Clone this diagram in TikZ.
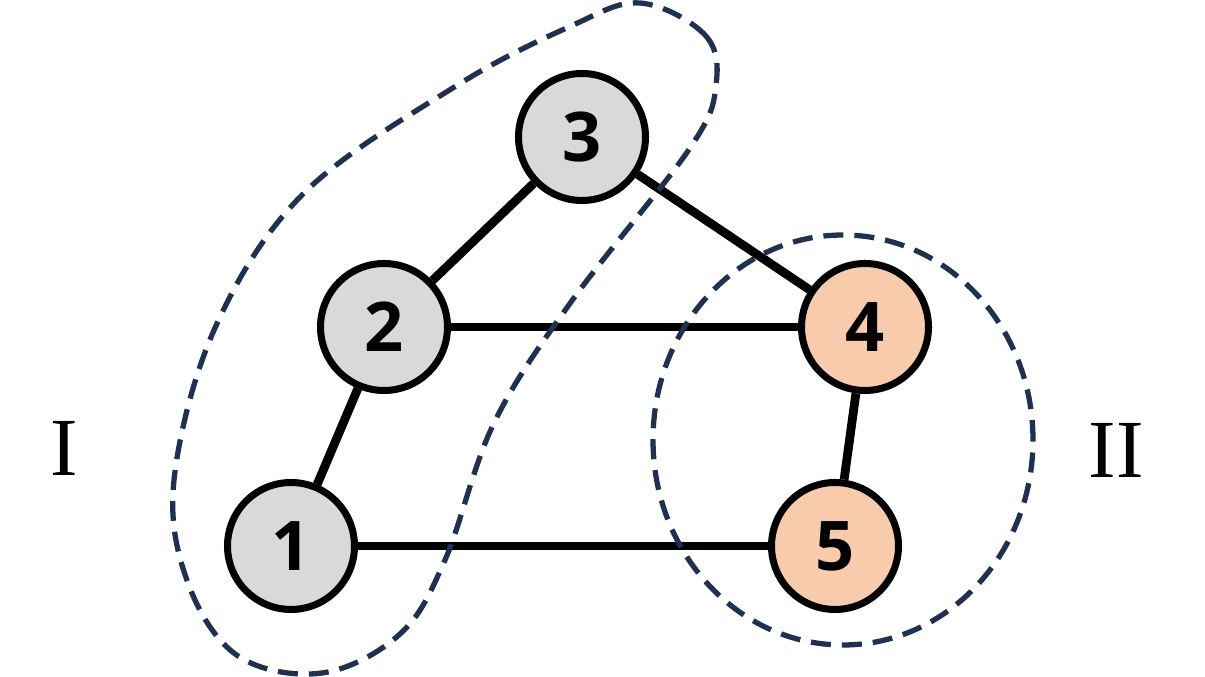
\documentclass[tikz,border=0pt]{standalone}
\usepackage{fontspec}
\setmainfont{Liberation Serif}
\newfontfamily\numfont{Open Sans}
\usepackage{xcolor}
\definecolor{nodegray}{HTML}{D9D9D9}
\definecolor{nodepeach}{HTML}{F8CBAD}
\definecolor{groupblue}{HTML}{1F3050}

\begin{document}
\begin{tikzpicture}[scale=1,
  vertex/.style={circle, draw=black, line width=4pt, minimum size=2.54cm, inner sep=0pt,
    fill=nodegray, font=\numfont\bfseries\fontsize{39}{39}\selectfont},
  peach/.style={vertex, fill=nodepeach},
  edge/.style={line width=5pt},
  group/.style={draw=groupblue, line width=3pt, dash pattern=on 0.4cm off 0.22cm},
  grouplabel/.style={font=\fontsize{47}{47}\selectfont}]

  % --- Rahmen ---
  \useasboundingbox (0,0) rectangle (24.1,13.54);

  % ============================================================
  % Knoten
  % ============================================================
  \node[vertex] (v3) at (11.64,10.80) {3};
  \node[vertex] (v2) at (7.68,7.00) {2};
  \node[peach]  (v4) at (17.30,7.00) {4};
  \node[vertex] (v1) at (5.82,2.62) {1};
  \node[peach]  (v5) at (16.70,2.62) {5};

  % ============================================================
  % Kanten
  % ============================================================
  \draw[edge] (v3) -- (v2);
  \draw[edge] (v3) -- (v4);
  \draw[edge] (v2) -- (v4);
  \draw[edge] (v2) -- (v1);
  \draw[edge] (v1) -- (v5);
  \draw[edge] (v4) -- (v5);

  % ============================================================
  % Gruppen I und II
  % ============================================================
  \draw[group] plot[smooth cycle, tension=0.6] coordinates {
    (12.80,13.48) (14.10,12.84) (14.32,11.84) (13.80,10.58)
    (11.42,7.50) (9.88,5.08) (8.90,2.34) (8.00,0.86)
    (6.44,0.08) (4.76,0.42) (3.76,1.88) (3.48,3.94)
    (4.30,6.98) (6.06,9.66) (9.12,11.82) (11.42,13.02)};
  \draw[group] (16.86,4.74) ellipse [x radius=3.80, y radius=4.10];

  \node[grouplabel] (lab1) at (1.28,4.58) {I};
  \node[grouplabel] (lab2) at (22.32,4.54) {II};

\end{tikzpicture}
\end{document}
